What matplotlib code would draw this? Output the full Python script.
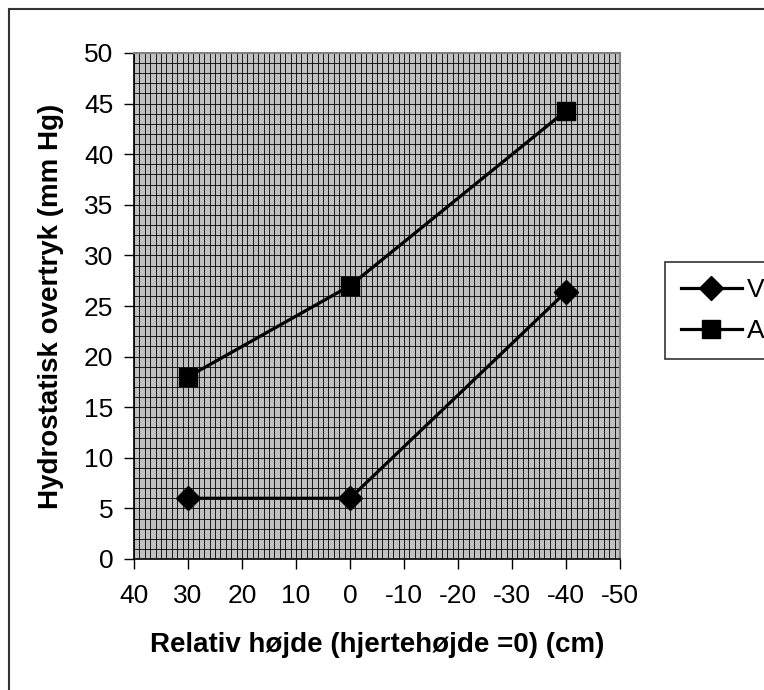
import matplotlib
import matplotlib.pyplot as plt
from matplotlib.patches import Rectangle
from matplotlib.ticker import MultipleLocator

plt.switch_backend('agg')

#%% data
height_cm = [30, 0, -40]
v_mmhg    = [6, 6, 26.4]
a_mmhg    = [18, 27, 44.3]

x_ticks = [40, 30, 20, 10, 0, -10, -20, -30, -40, -50]
y_ticks = [0, 5, 10, 15, 20, 25, 30, 35, 40, 45, 50]

XLABEL = 'Relativ højde (hjertehøjde =0) (cm)'
YLABEL = 'Hydrostatisk overtryk (mm Hg)'

#%% plotting
plt.rcParams['font.family'] = ['Liberation Sans', 'DejaVu Sans']
plt.rcParams['font.size'] = 19
plt.rcParams['axes.unicode_minus'] = False

W, H = 764, 690
fig = plt.figure(figsize=(W / 100, H / 100), dpi=100)

# plot area in pixels: left 134, right 620, top 53, bottom 559
ax = fig.add_axes([134 / W, 1 - 559 / H, (620 - 134) / W, (559 - 53) / H])
ax.set_facecolor('#C0C0C0')

ax.plot(height_cm, v_mmhg, color='black', lw=2.3, marker='D', ms=12, label='V')
ax.plot(height_cm, a_mmhg, color='black', lw=2.3, marker='s', ms=13, label='A')

ax.set_xlim(40, -50)
ax.set_ylim(0, 50)
ax.set_xticks(x_ticks)
ax.set_yticks(y_ticks)
ax.xaxis.set_minor_locator(MultipleLocator(1))
ax.yaxis.set_minor_locator(MultipleLocator(1))
ax.grid(True, which='both', color='black', lw=0.6)
ax.set_axisbelow(True)

ax.tick_params(which='major', direction='out', length=7, width=1, color='black')
ax.tick_params(axis='y', which='major', pad=8)
ax.tick_params(axis='x', which='major', pad=11)
ax.tick_params(which='minor', length=0)

for s in ['top', 'right']:
    ax.spines[s].set_color('#808080')
    ax.spines[s].set_linewidth(1.5)
for s in ['left', 'bottom']:
    ax.spines[s].set_color('black')
    ax.spines[s].set_linewidth(1.2)

ax.set_xlabel(XLABEL, fontweight='bold', fontsize=20, labelpad=17)
ax.set_ylabel(YLABEL, fontweight='bold', fontsize=20, labelpad=14)

leg = fig.legend(loc='upper left', bbox_to_anchor=(665 / W, 1 - 262 / H),
                 frameon=True, fancybox=False, edgecolor='black',
                 handlelength=2.3, handletextpad=0.2, borderpad=0.6,
                 labelspacing=0.65, borderaxespad=0)
leg.get_frame().set_linewidth(1.2)

# outer chart border (only left and top visible in the reference)
fig.patches.append(Rectangle((9 / W, -0.1), 1.2, 1.1 - 9 / H, transform=fig.transFigure,
                             fill=False, edgecolor='#333333', lw=1.5))

plt.savefig('out.png', dpi=100)
